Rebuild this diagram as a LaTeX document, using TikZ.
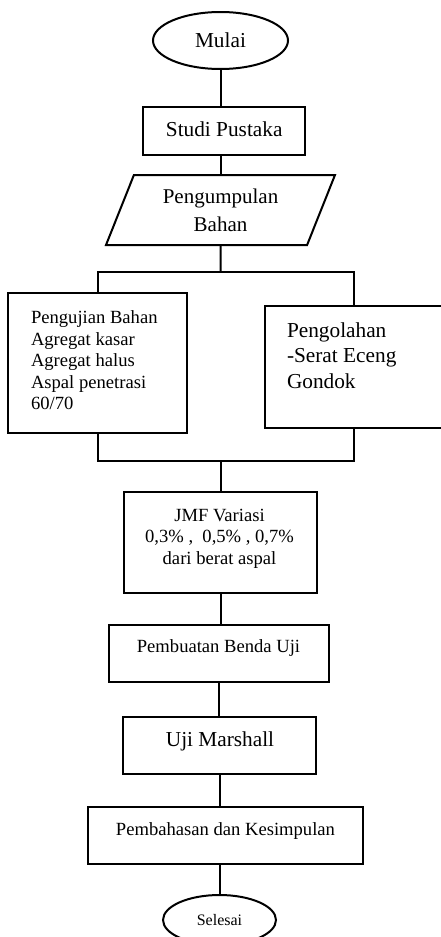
\documentclass[tikz,border=0pt]{standalone}
\usepackage{fontspec}
\setmainfont{Liberation Serif}
\usetikzlibrary{shapes.geometric}
\newcommand{\fsz}[2]{\fontsize{#1}{#2}\selectfont}
\begin{document}
\begin{tikzpicture}[x=1pt,y=-1pt,line width=2pt,
  box/.style={draw,rectangle,inner sep=0pt},
  oval/.style={draw,ellipse,inner sep=0pt},
  small/.style={font=\fsz{18.6}{21.4}},
  large/.style={font=\fsz{21.3}{25.3}},
  txt/.style={inner sep=0pt}]
\useasboundingbox (0,0) rectangle (441,937);

% shapes
\node[oval,large,minimum width=135pt,minimum height=57pt] (mulai) at (220.5,40.5) {Mulai};
\node[box,minimum width=162pt,minimum height=48pt] (studi) at (224,131) {};
\node[txt,large,anchor=base] (tstudi) at (224.2,136) {Studi Pustaka};
\node[draw,trapezium,trapezium left angle=56.69,trapezium right angle=123.31,
      trapezium stretches body,minimum width=229pt,minimum height=70pt,inner sep=0pt,
      font=\fsz{21}{27.7},align=center] (bahan) at (220.5,210) {Pengumpulan\\Bahan};

\node[box,minimum width=179pt,minimum height=140pt] (left) at (97.5,363) {};
\node[txt,small,anchor=north west,align=left] (tleft) at (30,310)
  {Pengujian Bahan\\Agregat kasar\\Agregat halus\\Aspal penetrasi\\60/70};
\node[box,minimum width=178pt,minimum height=122pt] (right) at (354,367) {};
\node[txt,large,anchor=north west,align=left] (tright) at (286,321.7)
  {Pengolahan\\-Serat Eceng\\Gondok};

\node[box,minimum width=193pt,minimum height=101pt] (jmf) at (220.5,542.5) {};
\node[txt,small,anchor=north,align=center] (tjmf) at (219.5,508)
  {JMF Variasi\\0,3\% ,~ 0,5\% , 0,7\%\\dari berat aspal};

\node[box,minimum width=220pt,minimum height=57pt] (buat) at (219,653.5) {};
\node[txt,small,anchor=base] (tbuat) at (218.5,652.7) {Pembuatan Benda Uji};

\node[box,minimum width=193pt,minimum height=57pt] (uji) at (219.5,745.5) {};
\node[txt,large,anchor=base] (tuji) at (220,746.7) {Uji Marshall};

\node[box,minimum width=275pt,minimum height=57pt] (bahas) at (225.5,835.5) {};
\node[txt,small,anchor=base] (tbahas) at (225.5,835) {Pembahasan dan Kesimpulan};

\node[oval,font=\fsz{16}{19},minimum width=113pt,minimum height=50pt] (selesai) at (219.5,920) {Selesai};

\coordinate (split) at (220.5,272);
\coordinate (merge) at (220.5,461);

% connectors
\draw (mulai.south) -- (mulai.south |- studi.north);
\draw (studi.south -| bahan.north) -- (bahan.north);
\draw (bahan.south) -- (split);
\draw (left.north) -- (left.north |- split) -- (right.north |- split) -- (right.north);
\draw (left.south) -- (left.south |- merge) -- (right.south |- merge) -- (right.south);
\draw (merge) -- (merge |- jmf.north);
\draw (jmf.south) -- (jmf.south |- buat.north);
\draw (buat.south) -- (buat.south |- uji.north);
\draw (uji.south) -- (uji.south |- bahas.north);
\draw (bahas.south -| selesai.north) -- (selesai.north);
\end{tikzpicture}
\end{document}
